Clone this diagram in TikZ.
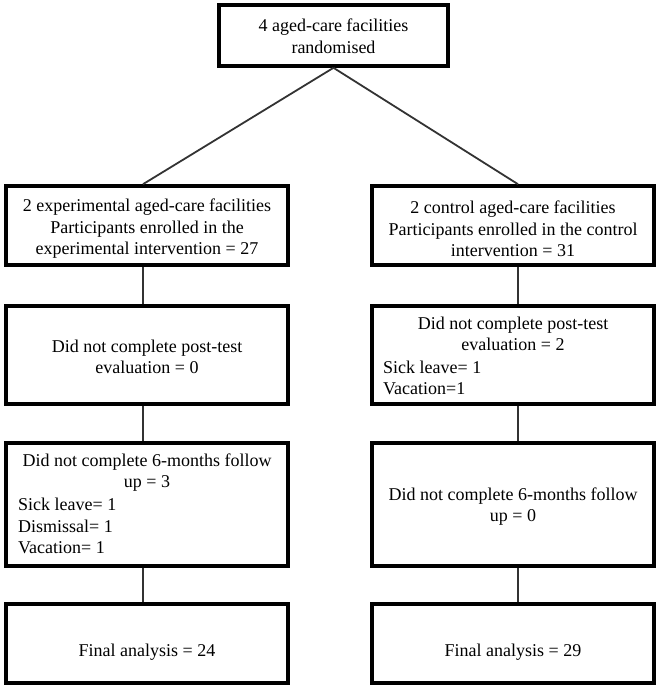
\documentclass[tikz,border=0pt]{standalone}
\usepackage{fontspec}
\setmainfont{Liberation Serif}
\begin{document}
\begin{tikzpicture}[x=1pt,y=-1pt,
  box/.style={draw=black,line width=3.6pt,fill=white,inner sep=0pt,minimum width=282pt},
  conn/.style={draw=black!80,line width=1.8pt},
  txt/.style={font=\fontsize{18}{21.5}\selectfont,align=center,inner sep=0pt},
  ltxt/.style={font=\fontsize{18}{21.5}\selectfont,align=left,inner sep=0pt,anchor=west}]
\useasboundingbox (0,0) rectangle (660,689);
\coordinate (lx) at (143,0);
\coordinate (rx) at (518,0);
% boxes
\node[box,minimum width=229pt,minimum height=61pt] (top) at (333.5,35.5) {};
\node[box,minimum height=79pt] (L1) at (147,225.5) {};
\node[box,minimum height=79pt] (R1) at (513,225.5) {};
\node[box,minimum height=98pt] (L2) at (147,355) {};
\node[box,minimum height=98pt] (R2) at (513,355) {};
\node[box,minimum height=123pt] (L3) at (147,504.5) {};
\node[box,minimum height=123pt] (R3) at (513,504.5) {};
\node[box,minimum height=79pt] (L4) at (147,643.5) {};
\node[box,minimum height=79pt] (R4) at (513,643.5) {};
% connectors
\draw[conn] (top.south) -- (L1.north -| lx);
\draw[conn] (top.south) -- (R1.north -| rx);
\draw[conn] (L1.south -| lx) -- (L2.north -| lx);
\draw[conn] (L2.south -| lx) -- (L3.north -| lx);
\draw[conn] (L3.south -| lx) -- (L4.north -| lx);
\draw[conn] (R1.south -| rx) -- (R2.north -| rx);
\draw[conn] (R2.south -| rx) -- (R3.north -| rx);
\draw[conn] (R3.south -| rx) -- (R4.north -| rx);
% texts
\node[txt] (t0) at (333.5,36) {4 aged-care facilities\\randomised};
\node[txt] (tL1) at (147,229) {2 experimental aged-care facilities\\Participants enrolled in the\\experimental intervention = 27};
\node[txt] (tR1) at (513,229) {2 control aged-care facilities\\Participants enrolled in the control\\intervention = 31};
\node[txt] (tL2) at (147,357) {Did not complete post-test\\evaluation = 0};
\node[txt] (tR2) at (513,334) {Did not complete post-test\\evaluation = 2};
\node[ltxt] (tR2b) at (383,378) {Sick leave= 1\\Vacation=1};
\node[txt] (tL3) at (147,472.5) {Did not complete 6-months follow\\up = 3};
\node[ltxt] (tL3b) at (18,526) {Sick leave= 1\\Dismissal= 1\\Vacation= 1};
\node[txt] (tR3) at (513,506.5) {Did not complete 6-months follow\\up = 0};
\node[txt] (tL4) at (147,652) {Final analysis = 24};
\node[txt] (tR4) at (513,652) {Final analysis = 29};
\end{tikzpicture}
\end{document}
